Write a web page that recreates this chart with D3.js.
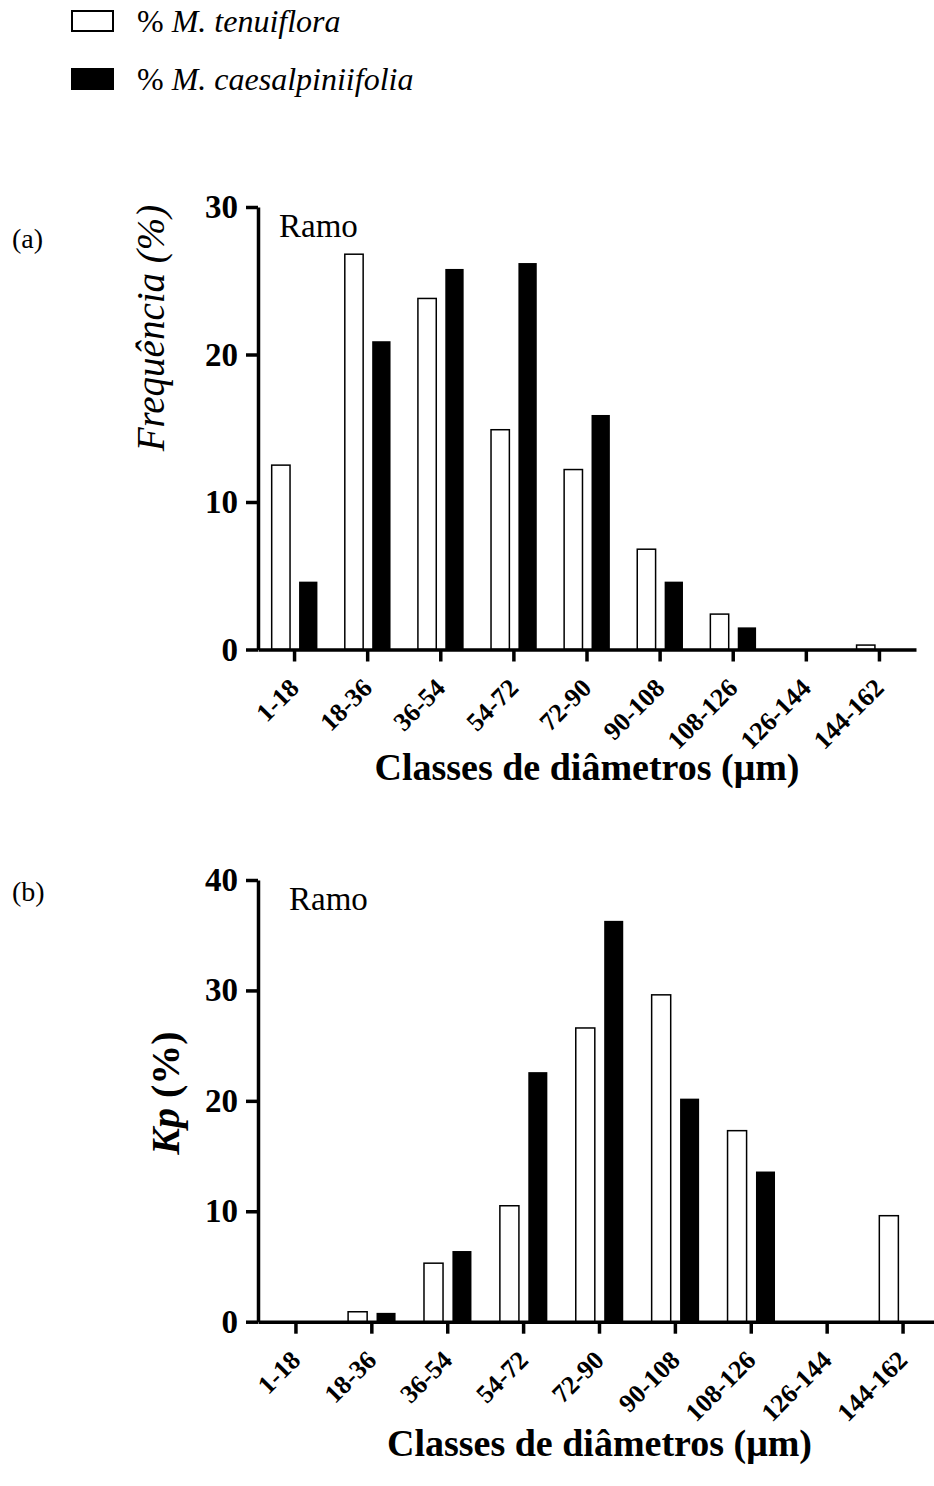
<!DOCTYPE html>
<html>
<head>
<meta charset="utf-8">
<script src="https://cdn.jsdelivr.net/npm/d3@7"></script>
<style>
  body { margin: 0; background: #fff; }
  text { font-family: "Liberation Serif", "Times New Roman", serif; fill: #000; }
  .axis path, .axis line { stroke: #000; stroke-width: 3.5; }
</style>
</head>
<body>
<script>
// diameter classes (µm)
var categories = ["1-18", "18-36", "36-54", "54-72", "72-90", "90-108", "108-126", "126-144", "144-162"];
var seriesKeys = ["tenuiflora", "caesalpiniifolia"];
var seriesNames = ["M. tenuiflora", "M. caesalpiniifolia"];

// (a) frequency (%)
var freqTenuiflora = [12.5, 26.8, 23.8, 14.9, 12.2, 6.8, 2.4, 0, 0.3];
var freqCaesalpiniifolia = [4.6, 20.9, 25.8, 26.2, 15.9, 4.6, 1.5, 0, 0];
// (b) Kp (%)
var kpTenuiflora = [0, 0.9, 5.3, 10.5, 26.6, 29.6, 17.3, 0, 9.6];
var kpCaesalpiniifolia = [0, 0.8, 6.4, 22.6, 36.3, 20.2, 13.6, 0, 0];

var yTicksA = [0, 10, 20, 30];
var yTicksB = [0, 10, 20, 30, 40];

var w = 934, h = 1486;

var svg = d3.select("body")
  .append("svg")
  .attr("width", w)
  .attr("height", h);

// legend
var legend = svg.append("g").attr("class", "legend");
seriesNames.forEach(function(name, i) {
  var yy = 11 + i * 58;
  legend.append("rect")
    .attr("x", 72).attr("y", yy)
    .attr("width", 41).attr("height", 20)
    .attr("fill", i == 0 ? "#fff" : "#000")
    .attr("stroke", "#000")
    .attr("stroke-width", 2);
  var t = legend.append("text")
    .attr("x", 137).attr("y", yy + 21)
    .style("font-size", "32px");
  t.append("tspan").text("% ");
  t.append("tspan").style("font-style", "italic").text(name);
});

function drawPanel(cfg) {
  var g = svg.append("g");

  var x0 = d3.scaleBand()
    .domain(categories)
    .range(cfg.xRange)
    .padding(0);
  var x1 = d3.scaleBand()
    .domain(seriesKeys)
    .range([0, x0.bandwidth()])
    .paddingInner(0.33)
    .paddingOuter(0.5);
  var y = d3.scaleLinear()
    .domain([0, d3.max(cfg.yTicks)])
    .range([cfg.bottom, cfg.top]);

  var rows = categories.map(function(c, i) {
    return { cat: c, tenuiflora: cfg.a[i], caesalpiniifolia: cfg.b[i] };
  });

  // bars
  g.selectAll(".grp")
    .data(rows)
    .enter()
    .append("g")
    .attr("class", "grp")
    .attr("transform", d => `translate(${x0(d.cat)}, 0)`)
    .selectAll("rect")
    .data(d => seriesKeys.map(k => ({ key: k, v: d[k] })))
    .enter()
    .append("rect")
    .attr("x", d => x1(d.key))
    .attr("width", x1.bandwidth())
    .attr("y", d => y(d.v))
    .attr("height", d => y(0) - y(d.v))
    .attr("fill", d => d.key == "tenuiflora" ? "#fff" : "#000")
    .attr("stroke", d => d.key == "tenuiflora" ? "#000" : "none")
    .attr("stroke-width", 1.5);

  // x axis
  var xAxis = g.append("g")
    .attr("class", "axis")
    .attr("transform", `translate(0, ${y(0)})`)
    .call(d3.axisBottom(x0).tickSize(12).tickSizeOuter(0));
  xAxis.selectAll(".tick text")
    .attr("x", 0).attr("y", 0).attr("dy", null)
    .attr("transform", "translate(6, 40) rotate(-45)")
    .style("text-anchor", "end")
    .style("font-size", "26px")
    .style("font-weight", "bold");

  // y axis
  var yAxis = g.append("g")
    .attr("class", "axis")
    .attr("transform", `translate(${cfg.xRange[0]}, 0)`)
    .call(d3.axisLeft(y).tickValues(cfg.yTicks).tickSize(12).tickSizeOuter(0).tickPadding(8));
  yAxis.selectAll(".tick text")
    .style("font-size", "33px")
    .style("font-weight", "bold");

  // panel letter
  g.append("text")
    .attr("x", 12).attr("y", cfg.letterY)
    .style("font-size", "28px")
    .text(cfg.letter);

  // "Ramo"
  g.append("text")
    .attr("x", cfg.ramoX).attr("y", cfg.ramoY)
    .style("font-size", "33px")
    .text("Ramo");

  // y title
  var yt = g.append("text")
    .attr("transform", `translate(${cfg.yTitleX}, ${cfg.yTitleY}) rotate(-90)`)
    .style("text-anchor", "middle")
    .style("font-size", cfg.yTitleSize);
  cfg.yTitle(yt);

  // x title
  g.append("text")
    .attr("x", (cfg.xRange[0] + cfg.xRange[1]) / 2)
    .attr("y", cfg.xTitleY)
    .style("text-anchor", "middle")
    .style("font-size", "38px")
    .style("font-weight", "bold")
    .text("Classes de diâmetros (μm)");
}

drawPanel({
  xRange: [258, 916], top: 207, bottom: 649.5,
  a: freqTenuiflora, b: freqCaesalpiniifolia, yTicks: yTicksA,
  letter: "(a)", letterY: 248,
  ramoX: 279, ramoY: 237,
  yTitleX: 164, yTitleY: 328, yTitleSize: "39px",
  yTitle: t => t.style("font-style", "italic").text("Frequência (%)"),
  xTitleY: 780
});

drawPanel({
  xRange: [258, 941], top: 880, bottom: 1321.7,
  a: kpTenuiflora, b: kpCaesalpiniifolia, yTicks: yTicksB,
  letter: "(b)", letterY: 901,
  ramoX: 289, ramoY: 910,
  yTitleX: 179, yTitleY: 1093, yTitleSize: "40px",
  yTitle: function(t) {
    t.style("font-weight", "bold");
    t.append("tspan").style("font-style", "italic").text("Kp");
    t.append("tspan").text(" (%)");
  },
  xTitleY: 1456
});
</script>
</body>
</html>
